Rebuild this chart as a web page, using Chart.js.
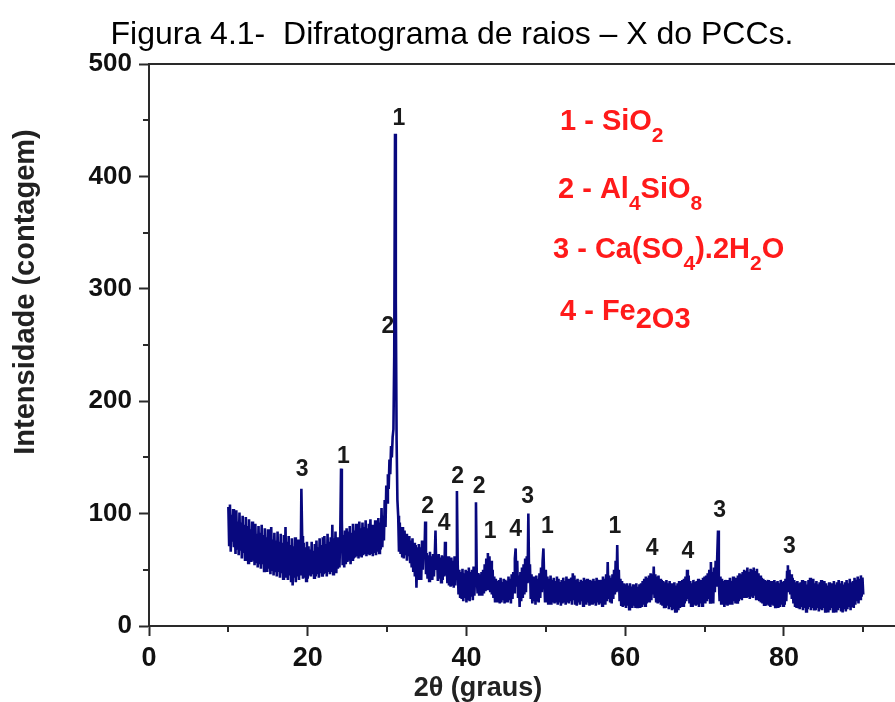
<!DOCTYPE html>
<html>
<head>
<meta charset="utf-8">
<title>Difratograma de raios X do PCCs</title>
<script src="https://cdn.jsdelivr.net/npm/chart.js@4.4.1/dist/chart.umd.min.js"></script>
<style>
  html, body { margin: 0; padding: 0; background: #fff; }
  #wrap { width: 895px; height: 702px; }
</style>
</head>
<body>
<div id="wrap"><canvas id="xrdChart" width="895" height="702"></canvas></div>
<script>
// 2θ sampling of the scan (degrees)
const scanStart = 10;
const scanStep = 0.1;

// Intensity (counts), one value every 0.1°, one row per degree (10° .. 90°)
const intensity = [
  /* 10 */ 106, 72, 108, 66, 99, 75, 104, 70, 96, 64,
  /* 11 */ 103, 69, 93, 63, 101, 67, 92, 60, 98, 65,
  /* 12 */ 90, 59, 97, 64, 89, 56, 95, 61, 86, 57,
  /* 13 */ 93, 58, 84, 54, 91, 57, 82, 52, 89, 55,
  /* 14 */ 83, 51, 90, 55, 81, 49, 87, 53, 79, 48,
  /* 15 */ 86, 51, 78, 46, 88, 50, 77, 45, 83, 49,
  /* 16 */ 76, 44, 84, 48, 75, 43, 82, 47, 74, 42,
  /* 17 */ 81, 46, 88, 43, 75, 41, 80, 45, 72, 40,
  /* 18 */ 78, 36, 71, 43, 79, 39, 70, 44, 77, 41,
  /* 19 */ 75, 45, 122, 80, 42, 74, 43, 70, 40, 75,
  /* 20 */ 42, 71, 45, 68, 44, 75, 46, 67, 43, 73,
  /* 21 */ 44, 76, 46, 70, 43, 78, 47, 72, 45, 79,
  /* 22 */ 46, 80, 48, 73, 44, 82, 48, 75, 46, 79,
  /* 23 */ 48, 90, 46, 78, 50, 84, 47, 79, 51, 77,
  /* 24 */ 52, 83, 140, 95, 54, 81, 52, 85, 55, 87,
  /* 25 */ 57, 84, 58, 89, 55, 83, 59, 91, 60, 85,
  /* 26 */ 61, 91, 62, 86, 60, 93, 63, 87, 61, 92,
  /* 27 */ 63, 88, 64, 94, 62, 87, 65, 91, 63, 95,
  /* 28 */ 64, 90, 62, 88, 65, 94, 63, 89, 66, 96,
  /* 29 */ 65, 92, 68, 105, 70, 98, 76, 112, 88, 125,
  /* 30 */ 110, 135, 122, 148, 135, 160, 150, 168, 175, 240,
  /* 31 */ 438, 290, 165, 112, 98, 66, 92, 64, 88, 62,
  /* 32 */ 88, 60, 85, 63, 82, 58, 79, 62, 80, 57,
  /* 33 */ 76, 52, 78, 48, 74, 44, 72, 34, 70, 42,
  /* 34 */ 73, 45, 70, 41, 76, 50, 72, 60, 93, 46,
  /* 35 */ 65, 42, 63, 40, 66, 43, 62, 41, 64, 44,
  /* 36 */ 60, 85, 50, 62, 40, 64, 42, 61, 39, 63,
  /* 37 */ 41, 62, 44, 75, 45, 60, 38, 62, 36, 58,
  /* 38 */ 35, 61, 37, 58, 34, 62, 36, 60, 120, 55,
  /* 39 */ 28, 50, 26, 48, 24, 51, 22, 47, 25, 50,
  /* 40 */ 21, 49, 24, 52, 22, 48, 26, 50, 23, 53,
  /* 41 */ 27, 50, 110, 45, 29, 47, 28, 46, 30, 48,
  /* 42 */ 27, 50, 29, 55, 31, 60, 33, 65, 34, 62,
  /* 43 */ 30, 58, 28, 50, 25, 44, 22, 42, 21, 40,
  /* 44 */ 22, 41, 20, 43, 21, 39, 23, 42, 20, 41,
  /* 45 */ 22, 40, 21, 44, 23, 42, 20, 46, 24, 48,
  /* 46 */ 30, 60, 69, 35, 58, 26, 45, 17, 48, 22,
  /* 47 */ 52, 25, 55, 28, 60, 30, 62, 38, 100, 40,
  /* 48 */ 55, 24, 46, 20, 44, 22, 43, 19, 45, 23,
  /* 49 */ 42, 21, 47, 25, 52, 30, 58, 69, 40, 22,
  /* 50 */ 50, 24, 44, 20, 42, 22, 45, 19, 41, 21,
  /* 51 */ 43, 20, 40, 22, 44, 19, 42, 21, 39, 18,
  /* 52 */ 41, 20, 43, 22, 40, 19, 44, 21, 42, 20,
  /* 53 */ 40, 22, 43, 19, 47, 23, 45, 20, 41, 18,
  /* 54 */ 42, 21, 39, 19, 41, 22, 40, 18, 43, 20,
  /* 55 */ 41, 19, 42, 21, 39, 18, 41, 20, 40, 19,
  /* 56 */ 42, 20, 40, 18, 43, 21, 41, 19, 39, 20,
  /* 57 */ 41, 18, 44, 21, 42, 19, 46, 22, 57, 24,
  /* 58 */ 45, 22, 43, 20, 46, 24, 50, 28, 58, 30,
  /* 59 */ 72, 32, 50, 22, 42, 19, 40, 17, 38, 18,
  /* 60 */ 37, 16, 38, 18, 36, 15, 38, 17, 35, 16,
  /* 61 */ 37, 18, 36, 16, 38, 17, 35, 18, 37, 16,
  /* 62 */ 38, 17, 40, 19, 42, 18, 44, 20, 43, 22,
  /* 63 */ 45, 21, 47, 23, 46, 28, 53, 25, 46, 22,
  /* 64 */ 44, 20, 45, 21, 42, 19, 41, 18, 40, 17,
  /* 65 */ 39, 16, 41, 18, 38, 15, 40, 17, 38, 14,
  /* 66 */ 37, 15, 39, 13, 36, 12, 38, 14, 40, 16,
  /* 67 */ 39, 17, 41, 18, 42, 20, 44, 22, 50, 24,
  /* 68 */ 45, 20, 40, 18, 38, 17, 41, 19, 39, 18,
  /* 69 */ 40, 19, 42, 17, 39, 20, 41, 18, 43, 21,
  /* 70 */ 44, 20, 45, 22, 47, 24, 50, 21, 57, 25,
  /* 71 */ 48, 20, 52, 30, 58, 35, 62, 85, 40, 22,
  /* 72 */ 44, 20, 42, 19, 40, 17, 41, 19, 39, 18,
  /* 73 */ 41, 20, 43, 21, 40, 19, 44, 22, 42, 20,
  /* 74 */ 43, 21, 45, 22, 47, 24, 46, 23, 48, 25,
  /* 75 */ 50, 26, 49, 25, 52, 27, 48, 24, 51, 26,
  /* 76 */ 50, 25, 52, 27, 49, 24, 51, 23, 47, 22,
  /* 77 */ 45, 21, 43, 20, 42, 19, 41, 18, 40, 19,
  /* 78 */ 41, 18, 39, 17, 40, 19, 38, 18, 41, 17,
  /* 79 */ 39, 18, 40, 16, 38, 17, 41, 19, 39, 18,
  /* 80 */ 40, 19, 42, 22, 48, 54, 30, 50, 28, 46,
  /* 81 */ 24, 43, 20, 41, 18, 39, 16, 40, 17, 38,
  /* 82 */ 15, 39, 17, 41, 14, 38, 16, 40, 13, 37,
  /* 83 */ 15, 41, 17, 43, 14, 39, 16, 42, 15, 38,
  /* 84 */ 14, 40, 16, 37, 13, 39, 15, 41, 14, 38,
  /* 85 */ 16, 40, 13, 38, 15, 36, 12, 39, 14, 37,
  /* 86 */ 16, 38, 13, 40, 15, 37, 12, 39, 14, 41,
  /* 87 */ 16, 38, 14, 40, 12, 37, 15, 39, 13, 41,
  /* 88 */ 15, 38, 17, 42, 14, 39, 18, 40, 16, 43,
  /* 89 */ 19, 41, 22, 44, 20, 42, 24, 45, 26, 43,
  /* 90 */ 28
];

// Axis ticks
const xTicks = [0, 20, 40, 60, 80];
const xMinorTicks = [10, 30, 50, 70, 90];
const yTicks = [0, 100, 200, 300, 400, 500];
const yMinorTicks = [50, 150, 250, 350, 450];

// Phase numbers written over the peaks (2θ, counts where the number sits)
const peakPhase = ['3', '1', '2', '1', '2', '4', '2', '2', '1', '4', '3', '1', '1', '4', '4', '3', '3'];
const peakTheta = [19.3, 24.5, 30.1, 31.5, 35.1, 37.2, 38.9, 41.6, 43.0, 46.2, 47.7, 50.2, 58.7, 63.4, 67.9, 71.9, 80.7];
const peakCount = [139, 151, 266, 451, 106, 91, 133, 124, 84, 86, 115, 88, 88, 69, 66, 103, 71];

// Legend of phases: [text, 0 = normal | 1 = subscript | 2 = lowered]
const phaseLegend = [
  [['1 - SiO', 0], ['2', 1]],
  [['2 - Al', 0], ['4', 1], ['SiO', 0], ['8', 1]],
  [['3 - Ca(SO', 0], ['4', 1], [').2H', 0], ['2', 1], ['O', 0]],
  [['4 - Fe', 0], ['2O3', 2]]
];

const chartTitle = 'Figura 4.1-  Difratograma de raios \u2013 X do PCCs.';
const yTitle = 'Intensidade (contagem)';
const xTitle = '2\u03b8 (graus)';

const FONT = '"Liberation Sans", Arial, Helvetica, sans-serif';
const axisColor = '#2a2a2a';
const lineColor = '#08087e';

const points = intensity.map((v, i) => ({ x: +(scanStart + i * scanStep).toFixed(1), y: v }));

// draws frame top, minor ticks, titles, peak numbers and the phase legend
const overlay = {
  id: 'overlay',
  afterDraw(chart) {
    const { ctx, chartArea: a, scales } = chart;
    const xs = scales.x, ys = scales.y;
    ctx.save();

    ctx.strokeStyle = axisColor;
    ctx.lineWidth = 2;
    ctx.beginPath();
    ctx.moveTo(a.left - 1, a.top);
    ctx.lineTo(a.right, a.top);
    xMinorTicks.forEach(v => {
      const px = Math.round(xs.getPixelForValue(v));
      ctx.moveTo(px, a.bottom);
      ctx.lineTo(px, a.bottom + 6);
    });
    yMinorTicks.forEach(v => {
      const py = Math.round(ys.getPixelForValue(v));
      ctx.moveTo(a.left, py);
      ctx.lineTo(a.left - 6, py);
    });
    ctx.stroke();

    // title
    ctx.fillStyle = '#000';
    ctx.textAlign = 'center';
    ctx.textBaseline = 'alphabetic';
    ctx.font = '32px ' + FONT;
    ctx.fillText(chartTitle, 452, 44);

    // axis titles
    ctx.fillStyle = '#222';
    ctx.font = 'bold 27px ' + FONT;
    ctx.fillText(xTitle, 478, 696);
    ctx.save();
    ctx.translate(34, 292);
    ctx.rotate(-Math.PI / 2);
    ctx.font = 'bold 29px ' + FONT;
    ctx.fillText(yTitle, 0, 0);
    ctx.restore();

    // peak numbers
    ctx.fillStyle = '#1a1a1a';
    ctx.font = 'bold 23px ' + FONT;
    ctx.textBaseline = 'middle';
    peakPhase.forEach((t, i) => {
      ctx.fillText(t, xs.getPixelForValue(peakTheta[i]), ys.getPixelForValue(peakCount[i]));
    });

    // legend
    const legendLeft = [560, 558, 553, 560];
    const legendBase = [130, 198, 258, 320];
    ctx.fillStyle = '#ff1a1a';
    ctx.textAlign = 'left';
    ctx.textBaseline = 'alphabetic';
    phaseLegend.forEach((parts, r) => {
      let px = legendLeft[r];
      parts.forEach(([t, kind]) => {
        ctx.font = (kind === 1 ? 'bold 21px ' : 'bold 29px ') + FONT;
        const dy = kind === 1 ? 12 : (kind === 2 ? 8 : 0);
        ctx.fillText(t, px, legendBase[r] + dy);
        px += ctx.measureText(t).width;
      });
    });
    ctx.restore();
  }
};

new Chart(document.getElementById('xrdChart'), {
  type: 'line',
  data: {
    datasets: [{
      label: 'PCCs',
      data: points,
      borderColor: lineColor,
      borderWidth: 2.6,
      pointRadius: 0,
      tension: 0
    }]
  },
  options: {
    responsive: false,
    animation: false,
    devicePixelRatio: 1,
    layout: { padding: { top: 64, right: 0, bottom: 0, left: 0 } },
    plugins: { legend: { display: false }, tooltip: { enabled: false } },
    scales: {
      x: {
        type: 'linear',
        min: 0,
        max: 94,
        afterBuildTicks: s => { s.ticks = xTicks.map(v => ({ value: v })); },
        afterFit: s => { s.height = 76; },
        grid: { drawOnChartArea: false, tickLength: 10, tickWidth: 2, tickColor: axisColor },
        border: { color: axisColor, width: 2 },
        ticks: { color: '#111', padding: 6, maxRotation: 0, autoSkip: false, font: { family: FONT, size: 27, weight: 'bold' } }
      },
      y: {
        min: 0,
        max: 500,
        afterBuildTicks: s => { s.ticks = yTicks.map(v => ({ value: v })); },
        afterFit: s => { s.width = 149; },
        grid: { drawOnChartArea: false, tickLength: 10, tickWidth: 2, tickColor: axisColor },
        border: { color: axisColor, width: 2 },
        ticks: { color: '#111', padding: 7, font: { family: FONT, size: 26, weight: 'bold' } }
      }
    }
  },
  plugins: [overlay]
});
</script>
</body>
</html>
